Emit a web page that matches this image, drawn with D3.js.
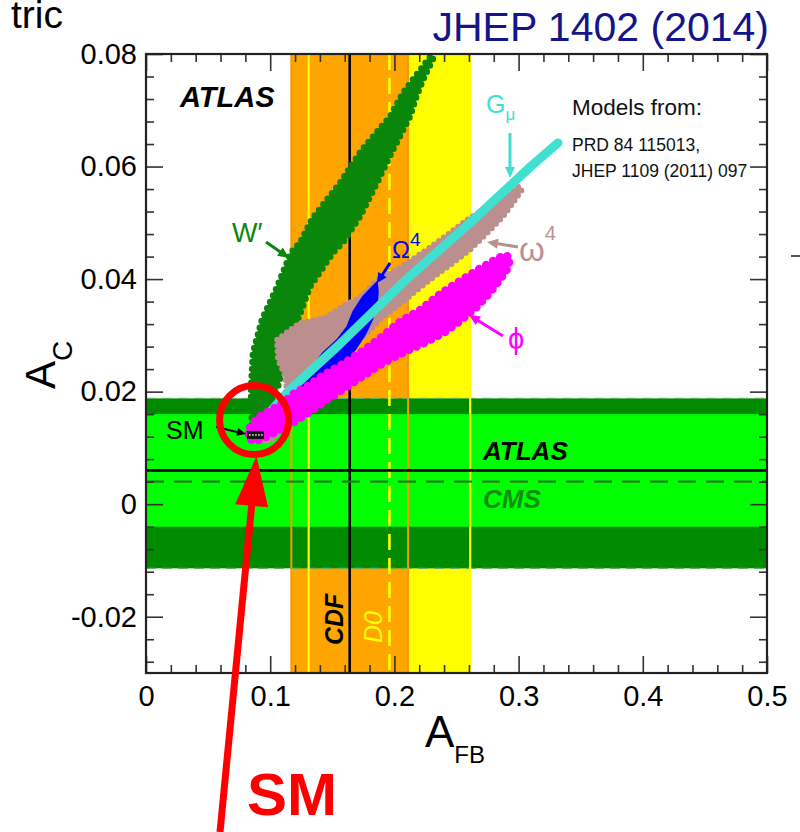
<!DOCTYPE html>
<html>
<head>
<meta charset="utf-8">
<script src="https://cdn.jsdelivr.net/npm/d3@7"></script>
<style>
  body { margin: 0; background: #fff; }
  svg { display: block; }
  text { font-family: "Liberation Sans", Arial, Helvetica, sans-serif; }
</style>
</head>
<body>
<svg id="chart" width="800" height="832"></svg>
<script>
// ---- axes ----
const xDomain = [0, 0.5];
const yDomain = [-0.03, 0.08];
const xTickLabels = [0, 0.1, 0.2, 0.3, 0.4, 0.5];
const yTickLabels = [-0.02, 0, 0.02, 0.04, 0.06, 0.08];
const xMinorStep = 0.02;
const yMinorStep = 0.004;

// ---- measurements: [central, low, high] ----
const cdfAfb = [0.164, 0.117, 0.211];
const d0Afb = [0.196, 0.131, 0.261];
const atlasAc = [0.006, -0.004, 0.016];
const cmsAc = [0.004, -0.0114, 0.0188];

// ---- Standard Model prediction [A_FB, A_C] ----
const smPoint = [0.0885, 0.0123];

// ---- model scan regions, outlines as [A_FB, A_C] ----
const wPrimeRegion = [
  [0.0853, 0.0141], [0.0845, 0.0203], [0.0861, 0.0269], [0.0934, 0.0328],
  [0.1055, 0.0386], [0.1167, 0.0447], [0.1240, 0.0465], [0.1337, 0.0507],
  [0.1562, 0.0571], [0.1739, 0.0630], [0.1965, 0.0689], [0.2069, 0.0731],
  [0.2287, 0.0795], [0.2319, 0.0795], [0.2238, 0.0758], [0.2174, 0.0722],
  [0.2126, 0.0689], [0.1989, 0.0630], [0.1860, 0.0571], [0.1723, 0.0511],
  [0.1586, 0.0465], [0.1506, 0.0447], [0.1320, 0.0386], [0.1224, 0.0328],
  [0.1135, 0.0269], [0.1063, 0.0209], [0.0974, 0.0173], [0.0902, 0.0141]
];
const omegaSmallRegion = [
  [0.0934, 0.0114], [0.1039, 0.0159], [0.1135, 0.0203], [0.1119, 0.0230],
  [0.1063, 0.0257], [0.1055, 0.0292], [0.1240, 0.0322], [0.1441, 0.0331],
  [0.1602, 0.0354], [0.1723, 0.0367], [0.1844, 0.0395], [0.1924, 0.0406],
  [0.2045, 0.0420], [0.2166, 0.0438], [0.2287, 0.0456], [0.2448, 0.0482],
  [0.2609, 0.0509], [0.2770, 0.0529], [0.2890, 0.0545], [0.2995, 0.0564],
  [0.3027, 0.0559], [0.2987, 0.0546], [0.2874, 0.0511], [0.2746, 0.0482],
  [0.2609, 0.0452], [0.2448, 0.0425], [0.2287, 0.0399], [0.2085, 0.0363],
  [0.1884, 0.0328], [0.1683, 0.0283], [0.1481, 0.0239], [0.1280, 0.0185],
  [0.1119, 0.0141], [0.0998, 0.0111]
];
const omegaBigRegion = [
  [0.1159, 0.0191], [0.1240, 0.0216], [0.1320, 0.0239], [0.1425, 0.0269],
  [0.1538, 0.0292], [0.1618, 0.0315], [0.1667, 0.0342], [0.1747, 0.0369],
  [0.1820, 0.0386], [0.1860, 0.0395], [0.1868, 0.0378], [0.1860, 0.0354],
  [0.1820, 0.0327], [0.1763, 0.0301], [0.1683, 0.0274], [0.1586, 0.0253],
  [0.1465, 0.0232], [0.1337, 0.0212], [0.1216, 0.0189]
];
const gMuCurve = [
  [0.0958, 0.0153], [0.1135, 0.0198], [0.1538, 0.0280], [0.2069, 0.0394],
  [0.2609, 0.0500], [0.3092, 0.0599], [0.3317, 0.0642]
];
const phiRegion = [
  [0.0837, 0.0136], [0.0902, 0.0154], [0.0998, 0.0166], [0.1103, 0.0180],
  [0.1200, 0.0198], [0.1304, 0.0210], [0.1417, 0.0228], [0.1562, 0.0246],
  [0.1723, 0.0269], [0.1868, 0.0292], [0.2045, 0.0324], [0.2206, 0.0345],
  [0.2391, 0.0377], [0.2504, 0.0393], [0.2609, 0.0408], [0.2713, 0.0422],
  [0.2810, 0.0434], [0.2890, 0.0443], [0.2931, 0.0438], [0.2915, 0.0420],
  [0.2850, 0.0399], [0.2770, 0.0376], [0.2665, 0.0351], [0.2544, 0.0328],
  [0.2407, 0.0306], [0.2246, 0.0287], [0.2085, 0.0271], [0.1924, 0.0253],
  [0.1763, 0.0230], [0.1643, 0.0212], [0.1481, 0.0189], [0.1320, 0.0164],
  [0.1159, 0.0141], [0.0998, 0.0123], [0.0878, 0.0111], [0.0821, 0.0118]
];

// ---- layout ----
const plot = { left: 146, top: 54, right: 767, bottom: 673 };
const svg = d3.select("#chart");
const x = d3.scaleLinear().domain(xDomain).range([plot.left, plot.right]);
const y = d3.scaleLinear().domain(yDomain).range([plot.bottom, plot.top]);

svg.append("defs").append("clipPath").attr("id", "plotClip")
  .append("rect")
  .attr("x", plot.left).attr("y", plot.top)
  .attr("width", plot.right - plot.left).attr("height", plot.bottom - plot.top);

const area = svg.append("g").attr("clip-path", "url(#plotClip)");

// Tevatron A_FB bands
area.append("rect")
  .attr("x", x(d0Afb[1])).attr("width", x(d0Afb[2]) - x(d0Afb[1]))
  .attr("y", plot.top).attr("height", plot.bottom - plot.top)
  .attr("fill", "#ffff00");
area.append("rect")
  .attr("x", x(cdfAfb[1])).attr("width", x(cdfAfb[2]) - x(cdfAfb[1]))
  .attr("y", plot.top).attr("height", plot.bottom - plot.top)
  .attr("fill", "#ffa500");

// LHC A_C bands
area.append("rect")
  .attr("x", plot.left).attr("width", plot.right - plot.left)
  .attr("y", y(cmsAc[2])).attr("height", y(cmsAc[1]) - y(cmsAc[2]))
  .attr("fill", "#008a00");
area.append("rect")
  .attr("x", plot.left).attr("width", plot.right - plot.left)
  .attr("y", y(atlasAc[2])).attr("height", y(atlasAc[1]) - y(atlasAc[2]))
  .attr("fill", "#00ff00");
[cmsAc[1], cmsAc[2]].forEach(v => {
  area.append("line")
    .attr("x1", plot.left).attr("x2", plot.right)
    .attr("y1", y(v)).attr("y2", y(v))
    .attr("stroke", "#5fb35f").attr("stroke-width", 1.2)
    .attr("stroke-dasharray", "10 6");
});

// band edges and central values of A_FB
function vline(v, color, width, dash) {
  area.append("line")
    .attr("x1", x(v)).attr("x2", x(v))
    .attr("y1", plot.top).attr("y2", plot.bottom)
    .attr("stroke", color).attr("stroke-width", width)
    .attr("stroke-dasharray", dash || null);
}
vline(cdfAfb[1], "#f59a00", 2);
vline(cdfAfb[2], "#f59a00", 2);
vline(d0Afb[1], "#ffff00", 2.2);
vline(d0Afb[2], "#ffff00", 2.2);
vline(d0Afb[0], "#ffff00", 2.6, "16 8");
vline(cdfAfb[0], "#000000", 2.6);

// central values of A_C
area.append("line")
  .attr("x1", plot.left).attr("x2", plot.right)
  .attr("y1", y(cmsAc[0])).attr("y2", y(cmsAc[0]))
  .attr("stroke", "#1f801f").attr("stroke-width", 2.4)
  .attr("stroke-dasharray", "18 10");
area.append("line")
  .attr("x1", plot.left).attr("x2", plot.right)
  .attr("y1", y(atlasAc[0])).attr("y2", y(atlasAc[0]))
  .attr("stroke", "#000").attr("stroke-width", 2.6);

// ---- model regions ----
const outline = d3.line().x(d => x(d[0])).y(d => y(d[1])).curve(d3.curveLinearClosed);
const curve = d3.line().x(d => x(d[0])).y(d => y(d[1]));

function region(pts, fill, dotColor, dotSize, dotGap) {
  area.append("path").attr("d", outline(pts)).attr("fill", fill)
    .attr("stroke", fill).attr("stroke-width", 1.5).attr("stroke-linejoin", "round");
  if (dotSize) {
    area.append("path").attr("d", outline(pts)).attr("fill", "none")
      .attr("stroke", dotColor).attr("stroke-width", dotSize)
      .attr("stroke-linecap", "round")
      .attr("stroke-dasharray", `0 ${dotGap}`);
  }
}

region(wPrimeRegion, "#0a870a", "#0a870a", 6.5, 7);
region(omegaSmallRegion, "#bc8f8f", "#bc8f8f", 6, 6);
region(omegaBigRegion, "#0000ff");
area.append("path").attr("d", curve(gMuCurve)).attr("fill", "none")
  .attr("stroke", "#40e0d0").attr("stroke-width", 9).attr("stroke-linecap", "round");
region(phiRegion, "#ff00ff", "#ff00ff", 8.5, 8);

// SM marker
const smX = x(smPoint[0]), smY = y(smPoint[1]);
area.append("rect").attr("x", smX - 9).attr("y", smY - 4).attr("width", 17).attr("height", 8)
  .attr("fill", "#111");
[-6, -3, 0, 3, 6].forEach(o => {
  area.append("circle").attr("cx", smX + o).attr("cy", smY).attr("r", 0.9).attr("fill", "#ddd");
});

// ---- axes ----
function styleAxis(g) {
  g.select(".domain").remove();
  g.selectAll(".tick line").attr("stroke", "#333").attr("stroke-width", 1.6);
  g.selectAll("text").attr("font-size", 29).attr("fill", "#000")
    .attr("font-family", "'Liberation Sans', Arial, sans-serif");
}
const xMinor = d3.range(0, 0.5001, xMinorStep).filter(v => Math.abs(v * 10 - Math.round(v * 10)) > 1e-6);
const yMinor = d3.range(-0.028, 0.0801, yMinorStep).filter(v => Math.abs(v * 50 - Math.round(v * 50)) > 1e-6);
const fmt = v => (Math.abs(v) < 1e-9 ? "0" : String(+v.toFixed(3)));

svg.append("g").attr("transform", `translate(0,${plot.bottom})`)
  .call(d3.axisBottom(x).tickValues(xTickLabels).tickSize(-17).tickPadding(12).tickFormat(fmt))
  .call(styleAxis);
svg.append("g").attr("transform", `translate(0,${plot.bottom})`)
  .call(d3.axisBottom(x).tickValues(xMinor).tickSize(-8).tickFormat(""))
  .call(styleAxis);
svg.append("g").attr("transform", `translate(0,${plot.top})`)
  .call(d3.axisTop(x).tickValues(xTickLabels).tickSize(-17).tickFormat(""))
  .call(styleAxis);
svg.append("g").attr("transform", `translate(0,${plot.top})`)
  .call(d3.axisTop(x).tickValues(xMinor).tickSize(-8).tickFormat(""))
  .call(styleAxis);
svg.append("g").attr("transform", `translate(${plot.left},0)`)
  .call(d3.axisLeft(y).tickValues(yTickLabels).tickSize(-17).tickPadding(9).tickFormat(fmt))
  .call(styleAxis);
svg.append("g").attr("transform", `translate(${plot.left},0)`)
  .call(d3.axisLeft(y).tickValues(yMinor).tickSize(-8).tickFormat(""))
  .call(styleAxis);
svg.append("g").attr("transform", `translate(${plot.right},0)`)
  .call(d3.axisRight(y).tickValues(yTickLabels).tickSize(-17).tickFormat(""))
  .call(styleAxis);
svg.append("g").attr("transform", `translate(${plot.right},0)`)
  .call(d3.axisRight(y).tickValues(yMinor).tickSize(-8).tickFormat(""))
  .call(styleAxis);

svg.append("rect")
  .attr("x", plot.left).attr("y", plot.top)
  .attr("width", plot.right - plot.left).attr("height", plot.bottom - plot.top)
  .attr("fill", "none").attr("stroke", "#222").attr("stroke-width", 2.2);

// axis titles
const xt = svg.append("text").attr("x", 425).attr("y", 747).attr("font-size", 44);
xt.append("tspan").text("A");
xt.append("tspan").attr("font-size", 24).attr("dy", 16).text("FB");
const yt = svg.append("text").attr("transform", "translate(55,389) rotate(-90)").attr("font-size", 42);
yt.append("tspan").text("A");
yt.append("tspan").attr("font-size", 28).attr("dy", 17).text("C");

// ---- annotations ----
function arrow(x1, y1, x2, y2, color, w, hl, hw) {
  const dx = x2 - x1, dy = y2 - y1, L = Math.hypot(dx, dy), ux = dx / L, uy = dy / L;
  const bx = x2 - ux * hl, by = y2 - uy * hl;
  svg.append("line").attr("x1", x1).attr("y1", y1).attr("x2", bx + ux).attr("y2", by + uy)
    .attr("stroke", color).attr("stroke-width", w);
  svg.append("polygon")
    .attr("points", [[x2, y2], [bx - uy * hw / 2, by + ux * hw / 2], [bx + uy * hw / 2, by - ux * hw / 2]]
      .map(p => p.join(",")).join(" "))
    .attr("fill", color);
}

function label(tx, ty, str, size, color, opts = {}) {
  return svg.append("text").attr("x", tx).attr("y", ty).attr("font-size", size)
    .attr("fill", color)
    .attr("font-weight", opts.bold ? "bold" : null)
    .attr("font-style", opts.italic ? "italic" : null)
    .attr("text-anchor", opts.anchor || null)
    .text(str);
}

label(180, 107, "ATLAS", 29, "#000", { bold: true, italic: true });
label(572, 115, "Models from:", 22.5, "#111");
label(572, 151, "PRD 84 115013,", 17.5, "#111");
label(572, 177, "JHEP 1109 (2011) 097", 17.5, "#111");

const gl = label(486, 113, "G", 25, "#40e0d0");
gl.append("tspan").attr("font-size", 17).attr("dy", 7).text("μ");
arrow(510, 133, 510, 178, "#40e0d0", 3, 11, 10);

label(232, 242, "W′", 27, "#0a870a");
arrow(266, 242, 289, 258, "#0a870a", 3, 11, 10);

const ol = label(392, 258, "Ω", 24, "#0000ff");
ol.append("tspan").attr("font-size", 19).attr("dy", -12).text("4");
arrow(390, 263, 377, 283, "#0000ff", 3, 10, 10);

const wl = label(519, 261, "ω", 33, "#bc8f8f");
wl.append("tspan").attr("font-size", 20).attr("dy", -21).text("4");
arrow(518, 247, 487, 242, "#bc8f8f", 3, 11, 10);

label(508, 349, "ϕ", 29, "#ff00ff");
arrow(503, 336, 469, 315, "#ff00ff", 3, 11, 10);

label(166, 439, "SM", 25, "#000");
arrow(216, 427, 246, 434, "#000", 2, 9, 8);

label(483, 460, "ATLAS", 26, "#000", { bold: true, italic: true });
label(483, 508, "CMS", 26, "#128c12", { bold: true, italic: true });

svg.append("text").attr("transform", "translate(343,645) rotate(-90)")
  .attr("font-size", 25).attr("font-weight", "bold").attr("font-style", "italic")
  .attr("fill", "#000").text("CDF");
svg.append("text").attr("transform", "translate(382,643) rotate(-90)")
  .attr("font-size", 25).attr("font-style", "italic")
  .attr("fill", "#ffff00").text("D0");

// header texts
label(63, 28, "tric", 39, "#000", { anchor: "end" });
label(769, 41, "JHEP 1402 (2014)", 41, "#15158a", { anchor: "end" });
svg.append("line").attr("x1", 791).attr("x2", 800).attr("y1", 256).attr("y2", 256)
  .attr("stroke", "#222").attr("stroke-width", 1.5);

// SM highlight
svg.append("circle").attr("cx", x(0.0870)).attr("cy", y(0.01494)).attr("r", 34.5)
  .attr("fill", "none").attr("stroke", "#ff0000").attr("stroke-width", 7);
(function () {
  const tail = [220, 832], tip = [256.5, 456];
  const dx = tip[0] - tail[0], dy = tip[1] - tail[1], L = Math.hypot(dx, dy);
  const ux = dx / L, uy = dy / L, hl = 50, hw = 33;
  const bx = tip[0] - ux * hl, by = tip[1] - uy * hl;
  svg.append("line").attr("x1", tail[0]).attr("y1", tail[1]).attr("x2", bx + ux * 2).attr("y2", by + uy * 2)
    .attr("stroke", "#ff0000").attr("stroke-width", 7);
  svg.append("polygon")
    .attr("points", [tip, [bx - uy * hw / 2, by + ux * hw / 2], [bx + uy * hw / 2, by - ux * hw / 2]]
      .map(p => p.join(",")).join(" "))
    .attr("fill", "#ff0000");
})();
label(247, 815, "SM", 60, "#ff0000", { bold: true });
</script>
</body>
</html>
